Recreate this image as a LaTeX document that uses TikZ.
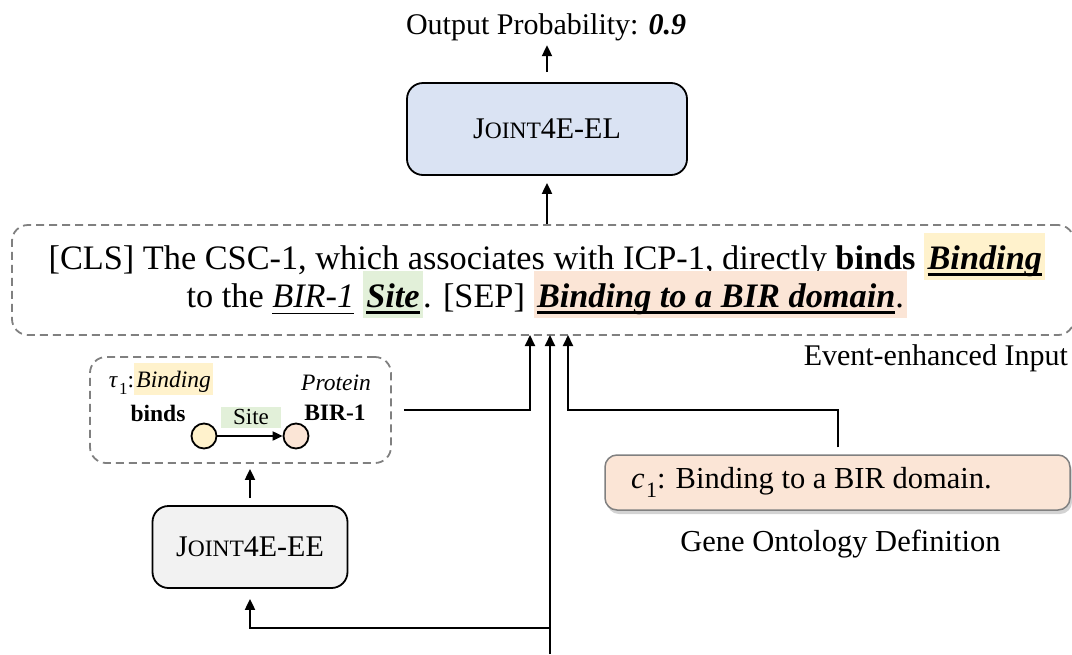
\documentclass[tikz,border=0pt]{standalone}
\usepackage{fontspec}
\setmainfont{Liberation Serif}
\usetikzlibrary{arrows.meta,shadows,calc}

\definecolor{elblue}{HTML}{DAE3F3}
\definecolor{eegray}{HTML}{F2F2F2}
\definecolor{hlyel}{HTML}{FFF2CC}
\definecolor{hlpch}{HTML}{FBE5D6}
\definecolor{hlgrn}{HTML}{E2F0D9}
\definecolor{dashgray}{HTML}{808080}

% highlighted word: coloured band behind the text, not affecting line height
\newcommand\hl[2]{\setbox4=\hbox{\kern.1em#2\kern.1em}\leavevmode\rlap{\smash{\textcolor{#1}{\rule[-.3em]{\wd4}{1.36em}}}}\box4\relax}
% underline with a chosen thickness
\newcommand\ulw[2]{\setbox2=\hbox{#2}\leavevmode\rlap{\rule[-.2em]{\wd2}{#1}}\box2\relax}
\newcommand\thickul[1]{\ulw{.1em}{#1}}
\newcommand\thinul[1]{\ulw{.045em}{#1}}
\newcommand\bi[1]{\textbf{\textit{#1}}}
\newcommand\scname[2]{#1{\fontsize{23.5}{24}\selectfont #2}}
% italic symbol with an upright index
\newcommand\sym[2]{\textit{#1}\kern.05em\raisebox{-.28em}{\fontsize{.72em}{1em}\selectfont #2}}

\tikzset{
  captxt/.style={font=\fontsize{30}{36}\selectfont},
  model/.style={draw, line width=1.8pt, rounded corners=16pt, inner sep=0pt,
    font=\fontsize{30}{36}\selectfont},
  dashbox/.style={draw=dashgray, line width=1.8pt, dash pattern=on 8pt off 5pt,
    rounded corners=16pt, inner sep=0pt},
  conn/.style={line width=2pt, -{Triangle[length=11pt,width=10pt]}},
  smallconn/.style={line width=2pt, -{Triangle[length=10pt,width=9pt]}},
  smalltxt/.style={font=\fontsize{23.5}{27}\selectfont, inner sep=0pt},
  ent/.style={circle, draw, line width=1.8pt, minimum size=25pt, inner sep=0pt},
}

\begin{document}
\begin{tikzpicture}[x=1pt,y=-1pt]
\useasboundingbox (0,0) rectangle (1072,654);

% output and linking model
\node[captxt] (out) at (546,27) {Output Probability: \bi{0.9}};
\node[model, fill=elblue, minimum width=280pt, minimum height=92pt] (el) at (547,129)
  {\scname{J}{OINT}4E-EL};

% event-enhanced input sequence
\node[dashbox, minimum width=1062pt, minimum height=110pt] (inp) at (543,280) {};
\node[align=center, font=\fontsize{34.3}{38}\selectfont, inner sep=0pt] (sent) at (547,280)
  {[CLS] The CSC-1, which associates with ICP-1, directly \textbf{binds} \hl{hlyel}{\thickul{\bi{Binding}}}\\
   to the \thinul{\textit{BIR-1}} \hl{hlgrn}{\thickul{\bi{Site}}}. [SEP] \hl{hlpch}{\thickul{\bi{Binding to a BIR domain}}.}};
\node[captxt, anchor=east, inner sep=0pt] (evlab) at (1068,358) {Event-enhanced Input};

% extracted event graph
\node[dashbox, minimum width=301pt, minimum height=106pt] (graph) at (240.5,410) {};
\node[smalltxt] (tau) at (161,383) {\sym{τ}{1}:\hl{hlyel}{\textit{Binding}}};
\node[smalltxt] (trigw) at (158,413) {\textbf{binds}};
\node[smalltxt] (ptype) at (336,383) {\textit{Protein}};
\node[smalltxt] (argw) at (335,413) {\textbf{BIR-1}};
\node[ent, fill=hlyel] (trig) at (204,436) {};
\node[ent, fill=hlpch] (arg) at (296,436) {};
\node[smalltxt, fill=hlgrn, minimum width=60pt, minimum height=21pt,
  font=\fontsize{23}{26}\selectfont] (site) at (251,417) {Site};
\draw[smallconn] (trig) -- (arg);

% event extraction model
\node[model, fill=eegray, minimum width=195pt, minimum height=82pt] (ee) at (250,547)
  {\scname{J}{OINT}4E-EE};

% gene ontology definition
\node[draw=dashgray, line width=1.5pt, rounded corners=12pt, fill=hlpch,
  drop shadow={shadow xshift=2pt, shadow yshift=-4pt, opacity=.35},
  minimum height=55pt, inner xsep=26pt, font=\fontsize{30.5}{34}\selectfont]
  (c1) at (837.5,482.5) {\makebox[413pt][l]{\sym{c}{1}: Binding to a BIR domain.}};
\node[captxt, font=\fontsize{30.5}{36}\selectfont] (golab) at ($(c1.south)+(3,33)$) {Gene Ontology Definition};

% connection points
\coordinate (src) at (550,654);
\coordinate (split) at (550,628);
\coordinate (inA) at (530,335);
\coordinate (inB) at (550,335);
\coordinate (inC) at (568,335);

% connectors
\draw[conn, shorten <=10pt, shorten >=1pt] (el.north) -- (el.north |- out.south);
\draw[conn, shorten >=7pt] (inp.north -| el.south) -- (el.south);
\draw[conn] (src) -- (inB);
\draw[conn, shorten >=10pt] (split) -| (ee.south);
\draw[conn, shorten <=7pt, shorten >=5pt] (ee.north) -- (ee.north |- graph.south);
\draw[conn, shorten <=12pt] (graph.east) -| (inA);
\draw[conn, shorten <=7pt] (c1.north) |- (inC |- graph.east) -- (inC);
\end{tikzpicture}
\end{document}
